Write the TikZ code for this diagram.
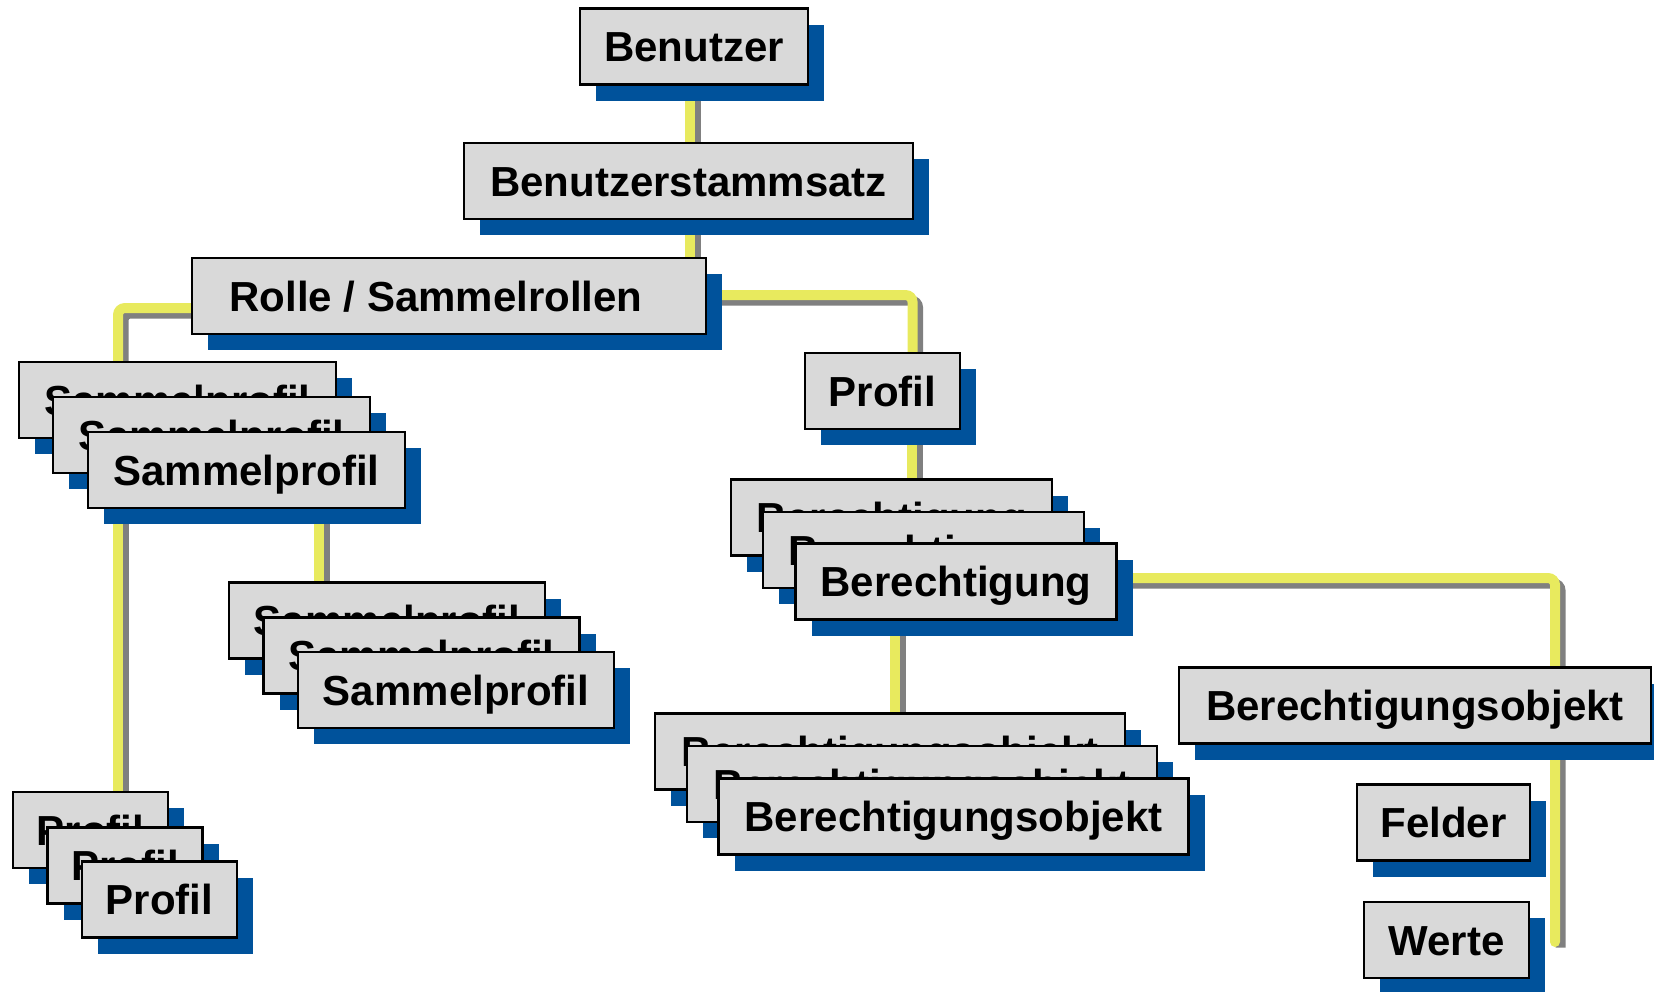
\documentclass[tikz,border=0pt]{standalone}
\usepackage{fontspec}
\setmainfont{Liberation Sans}
\usetikzlibrary{shadows,calc}
\definecolor{boxgray}{RGB}{217,217,217}
\definecolor{shblue}{RGB}{0,82,155}
\definecolor{lnyellow}{RGB}{232,234,94}
\definecolor{lngray}{RGB}{128,128,128}
\pgfdeclarelayer{bg}
\pgfsetlayers{bg,main}
\begin{document}
\begin{tikzpicture}[x=1pt,y=-1pt,
  box/.style={draw=black, line width=2.2pt, fill=boxgray, inner sep=0pt,
    minimum height=76pt, text height=30pt, text depth=0pt,
    font=\fontsize{42pt}{50pt}\selectfont\bfseries,
    drop shadow={shadow xshift=16pt, shadow yshift=-16pt, fill=shblue, opacity=1, draw=none}},
  conn/.style={draw=lnyellow, line width=10pt, rounded corners=7pt, line cap=round,
    preaction={draw=lngray, line width=10pt, transform canvas={xshift=5.5pt, yshift=-5.5pt}}}
]
\useasboundingbox (0,0) rectangle (1654,991);

\node[box, minimum width=228pt] (ben) at (694,46.5) {Benutzer};
\node[box, minimum width=449pt] (stamm) at (688.5,181) {Benutzerstammsatz};
\node[box, minimum width=514pt] (rolle) at (449,296) {Rolle / Sammelrollen\kern26pt};

\node[box, minimum width=317pt] (A1) at (177.5,400) {Sammelprofil};
\node[box, minimum width=317pt] (A2) at (211.5,435) {Sammelprofil};
\node[box, minimum width=317pt] (A3) at (246.5,470) {Sammelprofil};

\node[box, minimum width=316pt] (B1) at (387,620.5) {Sammelprofil};
\node[box, minimum width=316pt] (B2) at (421.5,655.5) {Sammelprofil};
\node[box, minimum width=316pt] (B3) at (456,690) {Sammelprofil};

\node[box, minimum width=155pt] (C1) at (90.5,830) {Profil};
\node[box, minimum width=155pt] (C2) at (125,865.5) {Profil};
\node[box, minimum width=155pt] (C3) at (159.5,899.5) {Profil};

\node[box, minimum width=155pt] (prof) at (882.5,391) {Profil};

\node[box, minimum width=321pt] (D1) at (891.5,517.5) {Berechtigung};
\node[box, minimum width=321pt] (D2) at (923.5,550) {Berechtigung};
\node[box, minimum width=321pt] (D3) at (956,581.5) {Berechtigung};

\node[box, minimum width=470pt] (E1) at (890,751.5) {Berechtigungsobjekt};
\node[box, minimum width=470pt] (E2) at (922,784) {Berechtigungsobjekt};
\node[box, minimum width=470pt] (E3) at (953.5,816.5) {Berechtigungsobjekt};

\node[box, minimum width=472pt] (BO) at (1415,705.5) {Berechtigungsobjekt};
\node[box, minimum width=173pt] (felder) at (1443.5,822.5) {Felder};
\node[box, minimum width=165pt] (werte) at (1446.5,940) {Werte};

\coordinate (vend) at (1555,942);

\begin{pgfonlayer}{bg}
\draw[conn] ([xshift=-4pt]ben.south) -- ([xshift=-4pt]ben.south |- stamm.north);
\draw[conn] ([xshift=1.5pt]stamm.south) -- ([xshift=1.5pt]stamm.south |- rolle.north);
\draw[conn] ([yshift=1pt]rolle.east) -| ([xshift=30pt]prof.north);
\draw[conn] ([xshift=29.5pt]prof.south) -- ([xshift=29.5pt]prof.south |- D1.north);
\draw[conn] ([yshift=-12pt]rolle.west) -| ([xshift=-59.5pt]A1.north);
\draw[conn] ([xshift=-128.5pt]A3.south) -- ([xshift=-128.5pt]A3.south |- C1.north);
\draw[conn] ([xshift=72.5pt]A3.south) -- ([xshift=72.5pt]A3.south |- B1.north);
\draw[conn] ([xshift=-61pt]D3.south) -- ([xshift=-61pt]D3.south |- E1.north);
\draw[conn] ([yshift=3.5pt]D3.east) -| ([xshift=140pt]BO.north) -- (vend);
\end{pgfonlayer}
\end{tikzpicture}
\end{document}
